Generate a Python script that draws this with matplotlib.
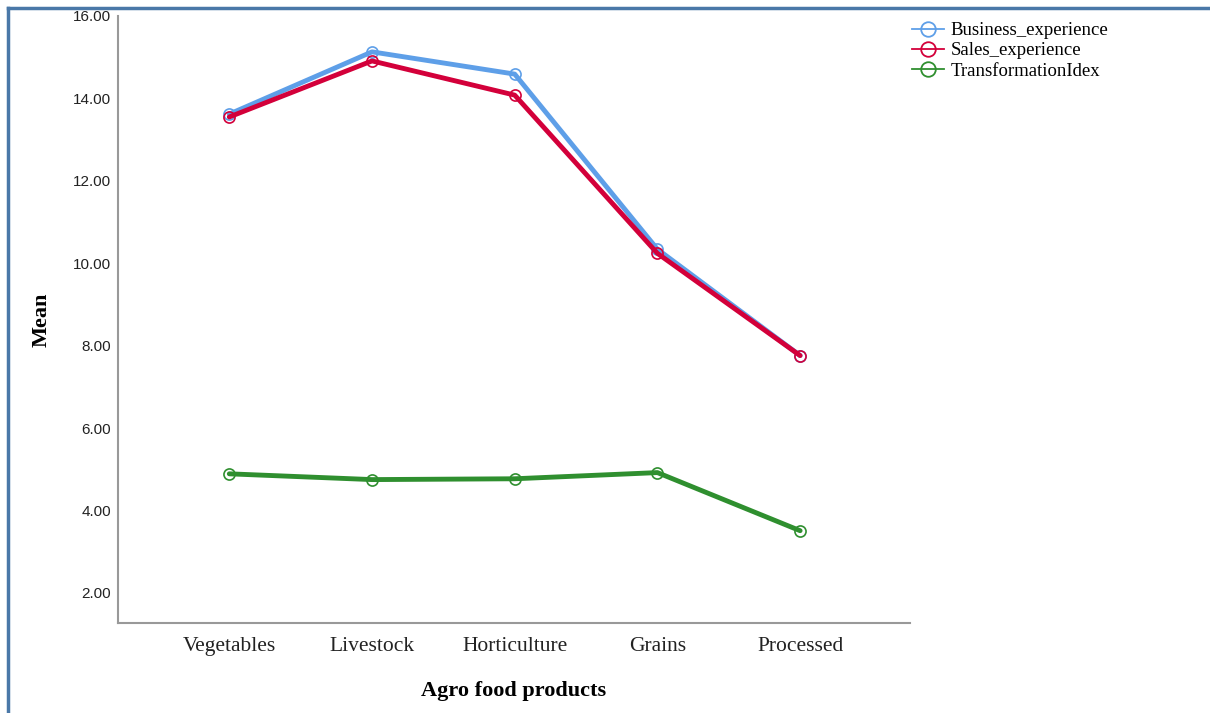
import matplotlib
matplotlib.use("Agg")
import matplotlib.pyplot as plt
from matplotlib.lines import Line2D

categories = ["Vegetables", "Livestock", "Horticulture", "Grains", "Processed"]
business_experience = [13.62, 15.13, 14.59, 10.34, 7.76]
sales_experience = [13.55, 14.91, 14.08, 10.24, 7.76]
transformation_index = [4.89, 4.75, 4.77, 4.92, 3.51]
yticks = [2, 4, 6, 8, 10, 12, 14, 16]

series = [
    ("Business_experience", business_experience, "#5e9fe8"),
    ("Sales_experience", sales_experience, "#d3003a"),
    ("TransformationIdex", transformation_index, "#2f8f2f"),
]

plt.rcParams['font.family'] = ['Liberation Serif', 'DejaVu Serif']

fig = plt.figure(figsize=(12.10, 7.13), dpi=100)
ax = fig.add_axes([118/1210, 1-623/713, (910-118)/1210, (623-16)/713])

x = list(range(len(categories)))
handles = []
for name, vals, col in series:
    ax.plot(x, vals, color=col, lw=3.5, marker='o', ms=8, mfc='none',
            mec=col, mew=1.2, solid_capstyle='round', zorder=3)
    handles.append(Line2D([0], [0], color=col, lw=1.3, marker='o', ms=10.5,
                          mfc='none', mec=col, mew=1.3, label=name))

ax.set_xlim(-0.78, 4.77)
ax.set_ylim(1.27, 16.0)
ax.set_xticks(x)
ax.set_xticklabels(categories, fontsize=15.5, color='#222222')
ax.set_yticks(yticks)
ax.set_yticklabels([f"{v:.2f}" for v in yticks], fontsize=11, color='#222222',
                   family=['Liberation Sans'])
ax.tick_params(axis='y', length=0, pad=5)
ax.tick_params(axis='x', length=0, pad=10)
for s in ['top', 'right']:
    ax.spines[s].set_visible(False)
for s in ['left', 'bottom']:
    ax.spines[s].set_color('#999999')
    ax.spines[s].set_linewidth(1.5)

ax.set_ylabel("Mean", fontsize=16, fontweight='bold', labelpad=15)
ax.set_xlabel("Agro food products", fontsize=16, fontweight='bold', labelpad=18)

fig.legend(handles=handles, loc='upper left', bbox_to_anchor=(912/1210, 1-22/713),
           frameon=False, fontsize=13.5, handlelength=1.7, handletextpad=0.35,
           labelspacing=0.17, borderaxespad=0, borderpad=0)

# outer frame lines
fig.add_artist(Line2D([8/1210, 8/1210], [0, 1-8/713], color='#4a78a8', lw=2.5,
                      transform=fig.transFigure))
fig.add_artist(Line2D([8/1210, 1], [1-8/713, 1-8/713], color='#4a78a8', lw=2.5,
                      transform=fig.transFigure))

fig.savefig("out.png", dpi=100)
